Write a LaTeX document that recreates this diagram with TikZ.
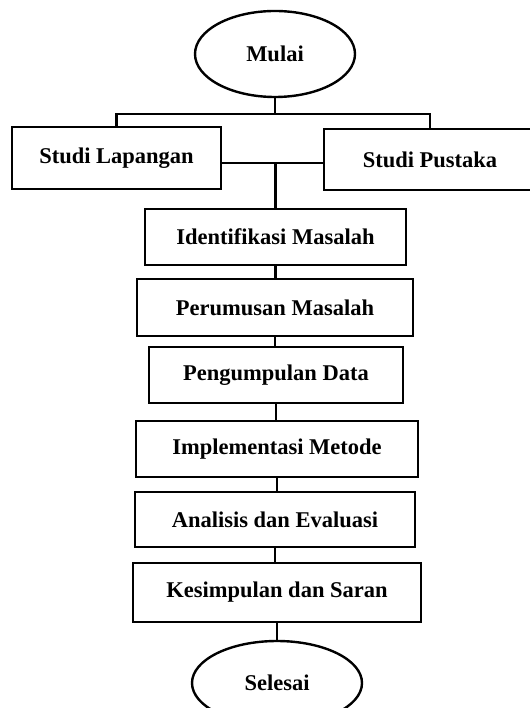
\documentclass[tikz,border=0pt]{standalone}
\usepackage{fontspec}
\setmainfont{Liberation Serif}
\usetikzlibrary{shapes.geometric}
\begin{document}
\begin{tikzpicture}[x=1pt,y=-1pt,
  every node/.style={font=\fontsize{22.5}{26}\selectfont\bfseries, inner sep=0pt},
  stepbox/.style={draw, line width=2.4pt, rectangle},
  oval/.style={draw, line width=2.4pt, ellipse},
  conn/.style={line width=2.4pt}]
\useasboundingbox (0,0) rectangle (529,708);
\node[oval, minimum width=160, minimum height=86] (mulai) at (275,54) {Mulai};
\node[stepbox, minimum width=209, minimum height=62] (lap) at (116.5,158) {Studi Lapangan};
\node[stepbox, minimum width=212, minimum height=61] (pus) at (430,159.5) {Studi Pustaka};
\node[stepbox, minimum width=261, minimum height=56] (ident) at (275.5,237) {Identifikasi Masalah};
\node[stepbox, minimum width=276, minimum height=57] (rumus) at (275,307.5) {Perumusan Masalah};
\node[stepbox, minimum width=254, minimum height=56] (kumpul) at (276,375) {Pengumpulan Data};
\node[stepbox, minimum width=282, minimum height=56] (impl) at (277,449) {Implementasi Metode};
\node[stepbox, minimum width=280, minimum height=55] (anal) at (275,519.5) {Analisis dan Evaluasi};
\node[stepbox, minimum width=288, minimum height=59] (simp) at (277,592.5) {Kesimpulan dan Saran};
\node[oval, minimum width=170, minimum height=84] (selesai) at (277,683) {Selesai};
\coordinate (top) at (275,114);
\coordinate (mid) at (275.5,163);
\draw[conn] (mulai.south) -- (top);
\draw[conn] (lap.north) |- (top) -| (pus.north);
\draw[conn] (lap.east |- mid) -- (pus.west |- mid);
\draw[conn] (mid) -- (mid |- ident.north);
\draw[conn] (ident.south) -- (ident.south |- rumus.north);
\draw[conn] (rumus.south) -- (rumus.south |- kumpul.north);
\draw[conn] (kumpul.south) -- (kumpul.south |- impl.north);
\draw[conn] (impl.south) -- (impl.south |- anal.north);
\draw[conn] (anal.south) -- (anal.south |- simp.north);
\draw[conn] (simp.south) -- (simp.south |- selesai.north);
\end{tikzpicture}
\end{document}
